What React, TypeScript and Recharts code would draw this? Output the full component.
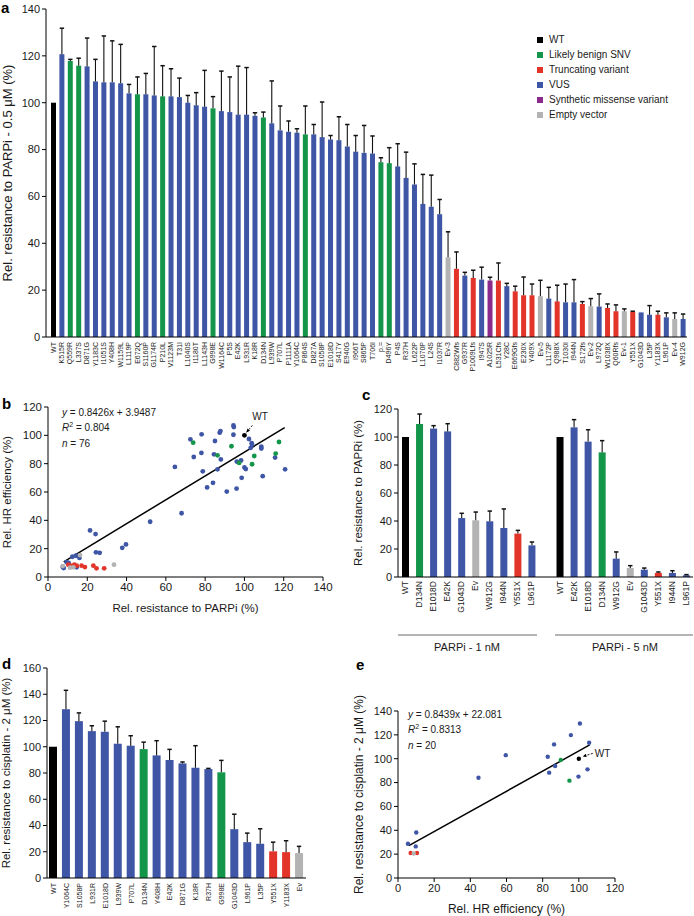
import React from 'react';
import { BarChart, Bar, XAxis, YAxis, ScatterChart, Scatter, ReferenceLine } from 'recharts';

const FONT = '"Liberation Sans", Arial, Helvetica, sans-serif';
const INK = '#1a1a1a';

const typeColors: Record<string, string> = {
  w: '#000000',
  b: '#13964a',
  t: '#e3342a',
  v: '#3e56a5',
  s: '#8a2a8c',
  e: '#b3b3b3',
};

const legendLabels = ['WT', 'Likely benign SNV', 'Truncating variant', 'VUS', 'Synthetic missense variant', 'Empty vector'];
const legendTypes = ['w', 'b', 't', 'v', 's', 'e'];

// panel a
const aLabels = ['WT', 'K515R', 'Q559R', 'L337S', 'D871G', 'Y1183C', 'I1051S', 'Y408H', 'W1159L', 'L1119P', 'E672Q', 'S1160P', 'G1174R', 'P210L', 'V1123M', 'T31I', 'L1040S', 'I1180T', 'L1143H', 'G998E', 'W1164C', 'P5S', 'E42K', 'L931R', 'K18R', 'D134N', 'L939W', 'P707L', 'P1111A', 'Y1064C', 'P864S', 'D827A', 'S1058P', 'E1018D', 'S417Y', 'E940G', 'I966T', 'S865P', 'T706I', 'p.=', 'D496Y', 'P4S', 'R37H', 'L622P', 'L1070P', 'L24S', 'I1037R', 'Ev-3', 'C882Wfs', 'G937R', 'P1009Lfs', 'I947S', 'A1025R', 'L531Cfs', 'Y28C', 'E669Gfs', 'E230X', 'Y409X', 'Ev-5', 'L1172P', 'Q988X', 'T1030I', 'I944N', 'S172fs', 'Ev-2', 'L972Q', 'W1038X', 'Q60Rfs', 'Ev-1', 'Y551X', 'G1043D', 'L35P', 'Y1183X', 'L961P', 'Ev-4', 'W912G'];
const aValues = [100, 120.7, 117.8, 115.8, 115.5, 109.1, 108.7, 108.7, 108.3, 104, 103.6, 103.6, 103.1, 102.7, 102.7, 102.4, 100, 98.9, 98.3, 97.6, 96.4, 96, 94.9, 94.9, 94.4, 93.7, 91.2, 88.2, 87.6, 87.2, 86.5, 86.5, 85.3, 84.3, 84, 81.3, 79.1, 78.6, 78.3, 74.6, 74.2, 72.8, 67.9, 65.1, 56.8, 55.6, 52.4, 34, 29.1, 26.2, 25.2, 24.5, 24.1, 24.1, 21.7, 19.5, 17.8, 17.8, 17.4, 16.4, 15.2, 14.8, 14.8, 14.1, 13.1, 13, 12.4, 11, 11, 10.7, 10.5, 9.5, 9.5, 8.4, 7.7, 7.7];
const aErr = [0, 11.1, 0.7, 3.2, 12.1, 9.4, 19.8, 17.7, 16.6, 3.8, 7.4, 8.9, 20.9, 13.1, 11.8, 8.1, 3.1, 5.4, 15.5, 5, 17.1, 15, 20.7, 20.1, 1.3, 2.3, 18.1, 10.4, 4.6, 1.7, 12.1, 4.2, 15, 1.7, 10, 9.4, 6.9, 11.7, 7.5, 1.9, 6.6, 9.7, 11, 8.8, 12.6, 13.5, 6.3, 10.9, 7.2, 1.4, 3.3, 5.3, 1.4, 7.5, 1.2, 2.2, 7.8, 4.8, 6.8, 4.8, 6.9, 7.8, 9.7, 1, 3.3, 5.4, 1.7, 2.7, 1, 0.3, 0, 3.9, 1.5, 1.9, 2.6, 2.1];
const aType = ['w', 'v', 'b', 'b', 'v', 'v', 'v', 'v', 'v', 'v', 'b', 'v', 'v', 'b', 'v', 'v', 'v', 'v', 'v', 'b', 'v', 'v', 'v', 'v', 'v', 'b', 'v', 'v', 'v', 'v', 'b', 'v', 'v', 'v', 'v', 'v', 'v', 'v', 'v', 'b', 'b', 'v', 'v', 'v', 'v', 'v', 'v', 'e', 't', 'v', 't', 'v', 's', 't', 'v', 't', 't', 't', 'e', 'v', 't', 'v', 'v', 't', 'e', 'v', 't', 't', 'e', 't', 'v', 'v', 't', 'v', 'e', 'v'];
const aTicks = [0, 20, 40, 60, 80, 100, 120, 140];

// panel b: [PARPi resistance, HR efficiency]
const bVus = [[64.6, 77.7], [68, 45], [52, 39], [21.4, 32.9], [24.2, 30.3], [24.4, 17.4], [26.3, 17.1], [37.8, 20.6], [39.7, 23], [7.5, 7], [8, 6.3], [9.5, 10.5], [10.5, 10], [12.4, 14.3], [14.2, 15], [16, 13.5], [14.6, 6.8], [72.5, 97.2], [74.2, 84.7], [78.2, 100.7], [78.1, 87.6], [78.8, 74.6], [81, 63.2], [84, 66.5], [84.5, 86.6], [85, 96], [86.3, 76], [87.4, 101.9], [87.8, 103], [88, 83], [91, 60.3], [94.4, 107], [94.6, 105.8], [94.4, 100.4], [96, 62.4], [96.1, 81.5], [98.3, 82.3], [98.6, 70], [100, 77.3], [100.7, 76.2], [102.3, 97.4], [103.7, 94.5], [103.9, 93.3], [103.2, 91.2], [108.6, 92], [108.6, 90.7], [109.3, 71.2], [115.6, 84.3], [120.7, 76]];
const bBenign = [[73.9, 94.8], [86.3, 85.9], [93.4, 92.3], [97.3, 80.5], [103.9, 79.6], [105, 85.4], [115.9, 87.1], [117.6, 95.3]];
const bTrunc = [[10.3, 8.7], [11.5, 8], [13.4, 8.7], [14.6, 8], [17.1, 8], [18.8, 7], [23.1, 8], [24.7, 6.1], [28.6, 6.1]];
const bEmpty = [[16.3, 15.5], [33.6, 8.7], [11.2, 6.6], [12.9, 6.8], [7.5, 7.7]];
const bWt = [[100, 100]];
const bFit = { slope: 0.8426, intercept: 3.9487, from: 8, to: 120.5 };
const bXTicks = [0, 20, 40, 60, 80, 100, 120, 140];
const bYTicks = [0, 20, 40, 60, 80, 100, 120];

// panel c
const cLabels = ['WT', 'D134N', 'E1018D', 'E42K', 'G1043D', 'Ev', 'W912G', 'I944N', 'Y551X', 'L961P', '', 'WT', 'E42K', 'E1018D', 'D134N', 'W912G', 'Ev', 'G1043D', 'Y551X', 'I944N', 'L961P'];
const cValues = [100, 109.3, 106, 104, 42.1, 40.5, 39.8, 35, 31, 22.6, null, 100, 106.9, 96.7, 89, 13.1, 6.4, 5.2, 2.9, 2.9, 1.2];
const cErr = [0, 7.1, 2.1, 5.5, 3.4, 5.9, 7.3, 13.6, 2.3, 2.4, 0, 0, 5.5, 8.5, 8.4, 4.8, 1.7, 1.2, 0.7, 1.6, 0.5];
const cType = ['w', 'b', 'v', 'v', 'v', 'e', 'v', 'v', 't', 'v', 'v', 'w', 'v', 'v', 'b', 'v', 'e', 'v', 't', 'v', 'v'];
const cTicks = [0, 20, 40, 60, 80, 100, 120];

// panel d
const dLabels = ['WT', 'Y1064C', 'S1058P', 'L931R', 'E1018D', 'L939W', 'P707L', 'D134N', 'Y408H', 'E42K', 'D871G', 'K18R', 'R37H', 'G998E', 'G1043D', 'L961P', 'L35P', 'Y551X', 'Y1183X', 'Ev'];
const dValues = [100, 128.6, 119.5, 111.9, 111.4, 102.3, 100.8, 98.2, 93.4, 89.9, 87.3, 84, 83, 80.5, 37.2, 27.3, 26.1, 20.3, 19.7, 19];
const dErr = [0, 14.4, 6.3, 4.1, 8.1, 12.9, 7.6, 5.3, 11.2, 8.1, 1.1, 16.8, 0.5, 9.1, 11.4, 6.9, 11.4, 7, 8.7, 5.1];
const dType = ['w', 'v', 'v', 'v', 'v', 'v', 'v', 'b', 'v', 'v', 'v', 'v', 'v', 'b', 'v', 'v', 'v', 't', 't', 'e'];
const dTicks = [0, 20, 40, 60, 80, 100, 120, 140, 160];

// panel e: [HR efficiency, cisplatin resistance]
const eVus = [[100.6, 129.5], [95.6, 119.8], [105.7, 113.4], [86.3, 112], [59.6, 103], [82.8, 101.7], [44.5, 84.1], [86.9, 93.9], [83.6, 88.3], [99.8, 85], [104.8, 91.1], [10.1, 38.2], [5.5, 28.7], [9.8, 26.5]];
const eBenign = [[90, 98.9], [94.8, 81.6]];
const eTrunc = [[7, 20.9], [10.5, 20.9]];
const eEmpty = [[8.7, 20.6]];
const eWt = [[100, 100]];
const eFit = { slope: 0.8439, intercept: 22.081, from: 6, to: 106 };
const eXTicks = [0, 20, 40, 60, 80, 100, 120];
const eYTicks = [0, 20, 40, 60, 80, 100, 120, 140];

const toRows = (labels: string[], values: (number | null)[], err: number[], types: string[]) =>
  labels.map((name, i) => ({ name, value: values[i], err: err[i], type: types[i] }));
const toPts = (pairs: number[][]) => pairs.map(([x, y]) => ({ x, y }));
const fitSeg = (f: { slope: number; intercept: number; from: number; to: number }) => [
  { x: f.from, y: f.slope * f.from + f.intercept },
  { x: f.to, y: f.slope * f.to + f.intercept },
];

const aData = toRows(aLabels, aValues, aErr, aType);
const cData = toRows(cLabels, cValues, cErr, cType);
const dData = toRows(dLabels, dValues, dErr, dType);

// bar plus an upper-only error whisker
const ErrBar = (props: any) => {
  const { x, y, width, height, payload } = props;
  if (payload.value == null || !height) return <g />;
  const k = height / payload.value;
  const top = y - payload.err * k;
  const cx = x + width / 2;
  return (
    <g>
      <rect x={x} y={y} width={width} height={height} fill={typeColors[payload.type]} />
      {payload.err > 0 && (
        <g stroke="#111">
          <line x1={cx} x2={cx} y1={y} y2={top} strokeWidth={1.1} />
          <line x1={cx - 2.2} x2={cx + 2.2} y1={top} y2={top} strokeWidth={1.5} />
        </g>
      )}
    </g>
  );
};

const RotTick = (props: any) => {
  const { x, y, payload, size, gap } = props;
  const ty = y + gap;
  return (
    <text x={x} y={ty} transform={`rotate(-90 ${x} ${ty})`} textAnchor="end" dy="0.35em" fontSize={size} fill={INK}>
      {payload.value}
    </text>
  );
};

const dot = (color: string, r: number) => (p: any) => <circle cx={p.cx} cy={p.cy} r={r} fill={color} />;

const Arrow = (props: any) => {
  const { x1, y1, x2, y2, tx, ty } = props;
  const ang = Math.atan2(y2 - y1, x2 - x1);
  const h = 4;
  const p1 = [x2 - h * Math.cos(ang - 0.45), y2 - h * Math.sin(ang - 0.45)];
  const p2 = [x2 - h * Math.cos(ang + 0.45), y2 - h * Math.sin(ang + 0.45)];
  return (
    <g>
      <line x1={x1} y1={y1} x2={x2} y2={y2} stroke="#000" strokeWidth={0.9} strokeDasharray="2 1.5" />
      <polygon points={`${x2},${y2} ${p1[0]},${p1[1]} ${p2[0]},${p2[1]}`} fill="#000" />
      <text x={x1 + tx} y={y1 + ty} fontSize={10} fill={INK}>WT</text>
    </g>
  );
};

const axisProps = {
  axisLine: { stroke: '#000' },
  tickLine: { stroke: '#000' },
  tickSize: 4,
  tickMargin: 2,
};

const yTitle = (value: string, offset: number, size: number) => ({
  value,
  angle: -90,
  position: 'insideLeft' as const,
  offset,
  style: { textAnchor: 'middle', fontSize: size, fill: INK },
});

const Letter = ({ ch, left, top }: { ch: string; left: number; top: number }) => (
  <div style={{ position: 'absolute', left, top, fontSize: 15, fontWeight: 'bold', lineHeight: '15px' }}>{ch}</div>
);

const Stats = ({ left, top, eq, r2, n }: { left: number; top: number; eq: string; r2: string; n: number }) => (
  <div style={{ position: 'absolute', left, top, fontSize: 10, lineHeight: '15px', color: INK }}>
    <div><i>y</i> = {eq}</div>
    <div>
      <i>R</i>
      <span style={{ fontSize: 7, position: 'relative', top: -4 }}>2</span> = {r2}
    </div>
    <div><i>n</i> = {n}</div>
  </div>
);

export default function App() {
  return (
    <div style={{ position: 'absolute', left: 0, top: 0, width: 694, height: 916, background: '#fff', fontFamily: FONT, overflow: 'hidden' }}>
      {/* a */}
      <div style={{ position: 'absolute', left: 0, top: 0 }}>
        <BarChart width={694} height={392} data={aData} margin={{ top: 9, right: 7, left: 0, bottom: 0 }}>
          <XAxis dataKey="name" interval={0} height={55} padding={{ left: 3, right: 0 }} axisLine={{ stroke: '#000' }} tickLine={false} tickSize={0} tickMargin={0} tick={<RotTick size={7} gap={5} />} />
          <YAxis width={46} domain={[0, 140]} ticks={aTicks} tick={{ fontSize: 11, fill: INK }} {...axisProps} label={yTitle('Rel. resistance to PARPi - 0.5 \u03bcM (%)', 7, 13)} />
          <Bar dataKey="value" barSize={5} shape={ErrBar} isAnimationActive={false} />
        </BarChart>
      </div>
      <div style={{ position: 'absolute', left: 537, top: 32, fontSize: 10, color: INK }}>
        {legendLabels.map((l, i) => (
          <div key={l} style={{ display: 'flex', alignItems: 'center', height: 15 }}>
            <span style={{ width: 6, height: 6, background: typeColors[legendTypes[i]], marginRight: 6 }} />
            {l}
          </div>
        ))}
      </div>

      {/* b */}
      <div style={{ position: 'absolute', left: 0, top: 395 }}>
        <ScatterChart width={340} height={225} margin={{ top: 12, right: 17, left: 0, bottom: 0 }}>
          <XAxis type="number" dataKey="x" domain={[0, 140]} ticks={bXTicks} height={43} tick={{ fontSize: 11.5, fill: INK }} {...axisProps} label={{ value: 'Rel. resistance to PARPi (%)', position: 'insideBottom', offset: 8, style: { fontSize: 11.5, fill: INK } }} />
          <YAxis type="number" dataKey="y" domain={[0, 120]} ticks={bYTicks} width={48} tick={{ fontSize: 11.5, fill: INK }} {...axisProps} label={yTitle('Rel. HR efficiency (%)', 7, 11.5)} />
          <Scatter data={toPts(bVus)} shape={dot(typeColors.v, 2.4)} isAnimationActive={false} />
          <Scatter data={toPts(bBenign)} shape={dot(typeColors.b, 2.4)} isAnimationActive={false} />
          <Scatter data={toPts(bTrunc)} shape={dot(typeColors.t, 2.4)} isAnimationActive={false} />
          <Scatter data={toPts(bEmpty)} shape={dot(typeColors.e, 2.4)} isAnimationActive={false} />
          <Scatter data={toPts(bWt)} shape={dot(typeColors.w, 2.4)} isAnimationActive={false} />
          <ReferenceLine segment={fitSeg(bFit)} stroke="#000" strokeWidth={1.5} ifOverflow="visible" />
          <ReferenceLine segment={[{ x: 104, y: 107 }, { x: 101, y: 102 }]} ifOverflow="visible" shape={(p: any) => <Arrow {...p} tx={0} ty={-5.5} />} />
        </ScatterChart>
      </div>
      <Stats left={62} top={405} eq="0.8426x + 3.9487" r2="0.804" n={76} />

      {/* c */}
      <div style={{ position: 'absolute', left: 340, top: 385 }}>
        <BarChart width={354} height={232} data={cData} margin={{ top: 24, right: 1, left: 0, bottom: 0 }}>
          <XAxis dataKey="name" interval={0} height={40} axisLine={{ stroke: '#000' }} tickLine={false} tickSize={0} tickMargin={0} tick={<RotTick size={8.5} gap={4} />} />
          <YAxis width={58} domain={[0, 120]} ticks={cTicks} tick={{ fontSize: 11, fill: INK }} {...axisProps} label={yTitle('Rel. resistance to PAPRi (%)', 18, 11.5)} />
          <Bar dataKey="value" barSize={7} shape={ErrBar} isAnimationActive={false} />
        </BarChart>
      </div>
      <svg style={{ position: 'absolute', left: 0, top: 0 }} width={694} height={916} pointerEvents="none">
        <line x1={398} x2={537} y1={635} y2={635} stroke="#444" strokeWidth={0.8} />
        <line x1={555} x2={693} y1={635} y2={635} stroke="#444" strokeWidth={0.8} />
        <text x={467} y={651} textAnchor="middle" fontSize={11} fill={INK}>PARPi - 1 nM</text>
        <text x={625} y={651} textAnchor="middle" fontSize={11} fill={INK}>PARPi - 5 nM</text>
      </svg>

      {/* d */}
      <div style={{ position: 'absolute', left: 0, top: 655 }}>
        <BarChart width={320} height={261} data={dData} margin={{ top: 13, right: 14, left: 0, bottom: 0 }}>
          <XAxis dataKey="name" interval={0} height={38} axisLine={{ stroke: '#000' }} tickLine={false} tickSize={0} tickMargin={0} tick={<RotTick size={7} gap={5} />} />
          <YAxis width={47} domain={[0, 160]} ticks={dTicks} tick={{ fontSize: 11, fill: INK }} {...axisProps} label={yTitle('Rel. resistance to cisplatin - 2 \u03bcM (%)', 6, 11.5)} />
          <Bar dataKey="value" barSize={8} shape={ErrBar} isAnimationActive={false} />
        </BarChart>
      </div>

      {/* e */}
      <div style={{ position: 'absolute', left: 340, top: 670 }}>
        <ScatterChart width={354} height={246} margin={{ top: 41, right: 79, left: 0, bottom: 0 }}>
          <XAxis type="number" dataKey="x" domain={[0, 120]} ticks={eXTicks} height={38} tick={{ fontSize: 11, fill: INK }} {...axisProps} label={{ value: 'Rel. HR efficiency (%)', position: 'insideBottom', offset: 3, style: { fontSize: 12, fill: INK } }} />
          <YAxis type="number" dataKey="y" domain={[0, 140]} ticks={eYTicks} width={58} tick={{ fontSize: 11, fill: INK }} {...axisProps} label={yTitle('Rel. resistance to cisplatin - 2 \u03bcM (%)', 19, 12)} />
          <Scatter data={toPts(eVus)} shape={dot(typeColors.v, 2.2)} isAnimationActive={false} />
          <Scatter data={toPts(eBenign)} shape={dot(typeColors.b, 2.2)} isAnimationActive={false} />
          <Scatter data={toPts(eTrunc)} shape={dot(typeColors.t, 2.2)} isAnimationActive={false} />
          <Scatter data={toPts(eEmpty)} shape={dot(typeColors.e, 2.2)} isAnimationActive={false} />
          <Scatter data={toPts(eWt)} shape={dot(typeColors.w, 2.2)} isAnimationActive={false} />
          <ReferenceLine segment={fitSeg(eFit)} stroke="#000" strokeWidth={1.5} ifOverflow="visible" />
          <ReferenceLine segment={[{ x: 107.7, y: 104.5 }, { x: 102.2, y: 101.9 }]} ifOverflow="visible" shape={(p: any) => <Arrow {...p} tx={2} ty={3.5} />} />
        </ScatterChart>
      </div>
      <Stats left={408} top={707} eq="0.8439x + 22.081" r2="0.8313" n={20} />

      <Letter ch="a" left={1} top={0} />
      <Letter ch="b" left={2} top={396} />
      <Letter ch="c" left={362} top={387} />
      <Letter ch="d" left={2} top={656} />
      <Letter ch="e" left={356} top={657} />
    </div>
  );
}
